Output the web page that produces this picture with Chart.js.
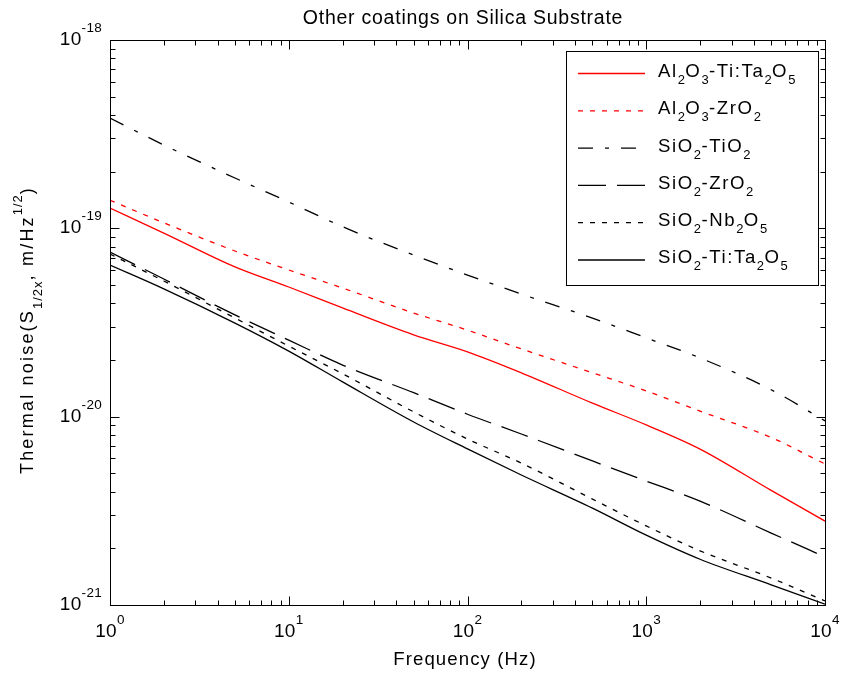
<!DOCTYPE html>
<html>
<head>
<meta charset="utf-8">
<script src="https://cdn.jsdelivr.net/npm/chart.js@4.4.1/dist/chart.umd.min.js"></script>
<style>
  html, body { margin: 0; padding: 0; background: #fff; }
  #wrap { width: 842px; height: 673px; }
</style>
</head>
<body>
<div id="wrap"><canvas id="noiseChart" width="842" height="673"></canvas></div>
<script>
// frequency grid (Hz) and thermal noise values (m/Hz^1/2)
const freqHz = [1, 2, 5, 10, 20, 50, 100, 200, 500, 1000, 2000, 5000, 10000];
const alTiTa = [1.28e-19, 9.44e-20, 6.24e-20, 4.88e-20, 3.78e-20, 2.72e-20, 2.21e-20, 1.71e-20, 1.18e-20, 9.04e-21, 6.73e-21, 4.06e-21, 2.79e-21];
const alZr   = [1.41e-19, 1.07e-19, 7.58e-20, 6.01e-20, 4.82e-20, 3.55e-20, 2.88e-20, 2.29e-20, 1.71e-20, 1.37e-20, 1.07e-20, 7.75e-21, 5.61e-21];
const siTi   = [3.85e-19, 2.77e-19, 1.85e-19, 1.38e-19, 1.02e-19, 7.21e-20, 5.65e-20, 4.48e-20, 3.34e-20, 2.62e-20, 2.05e-20, 1.39e-20, 9.5e-21];
const siZr   = [7.48e-20, 5.38e-20, 3.47e-20, 2.55e-20, 1.88e-20, 1.34e-20, 1.03e-20, 8.09e-21, 5.82e-21, 4.55e-21, 3.56e-21, 2.41e-21, 1.80e-21];
const siNb   = [7.31e-20, 5.25e-20, 3.34e-20, 2.37e-20, 1.69e-20, 1.06e-20, 7.61e-21, 5.67e-21, 3.65e-21, 2.63e-21, 1.94e-21, 1.39e-21, 1.05e-21];
const siTiTa = [6.38e-20, 4.77e-20, 3.14e-20, 2.23e-20, 1.53e-20, 9.37e-21, 6.74e-21, 4.90e-21, 3.27e-21, 2.35e-21, 1.75e-21, 1.28e-21, 1.01e-21];

const seriesLabels = ['Al2O3-Ti:Ta2O5', 'Al2O3-ZrO2', 'SiO2-TiO2', 'SiO2-ZrO2', 'SiO2-Nb2O5', 'SiO2-Ti:Ta2O5'];
const xTickExps = [0, 1, 2, 3, 4];
const yTickExps = [-21, -20, -19, -18];

const FONT = '"Liberation Sans", Arial, Helvetica, sans-serif';

function setFont(ctx, size, spacing) {
    ctx.font = size + 'px ' + FONT;
    ctx.letterSpacing = (spacing || 0) + 'px';
}

// digits in the formulas are drawn as subscripts
function formulaParts(label) {
    return label.match(/\d+|\D+/g).map(s => [s, /\d/.test(s) ? 'sub' : 'n']);
}

function partsWidth(ctx, parts, st) {
    let w = 0;
    parts.forEach(([t, k]) => {
        if (k === 'n') setFont(ctx, st.size, st.sp); else setFont(ctx, st.small, st.spSmall);
        w += ctx.measureText(t).width;
    });
    return w;
}

function drawParts(ctx, parts, x, y, st) {
    parts.forEach(([t, k]) => {
        if (k === 'n') setFont(ctx, st.size, st.sp); else setFont(ctx, st.small, st.spSmall);
        let dy = k === 'sub' ? st.subDy : (k === 'sup' ? st.supDy : 0);
        ctx.fillText(t, x, y + dy);
        x += ctx.measureText(t).width;
    });
    return x;
}

const tickStyle = { size: 19, sp: 0.3, small: 13.5, spSmall: 0.3, supDy: -13, subDy: 0 };
const legendStyle = { size: 18.6, sp: 1.6, small: 13, spSmall: 0.4, subDy: 7, supDy: 0 };
const ylabStyle = { size: 18, sp: 2.2, small: 13, spSmall: 1, subDy: 8.5, supDy: -11 };

function mkSet(i, vals, color, dash) {
    return {
        label: seriesLabels[i],
        data: freqHz.map((f, j) => ({ x: f, y: vals[j] })),
        borderColor: color, borderWidth: 1.3, borderDash: dash,
        pointRadius: 0, fill: false, cubicInterpolationMode: 'monotone'
    };
}

const framePlugin = {
    id: 'frame',
    beforeDraw(chart) {
        const ctx = chart.ctx;
        ctx.save(); ctx.fillStyle = '#fff'; ctx.fillRect(0, 0, chart.width, chart.height); ctx.restore();
    },
    afterDraw(chart) {
        const ctx = chart.ctx, a = chart.chartArea;
        const xs = chart.scales.x, ys = chart.scales.y;
        const L = Math.round(a.left) + 0.5, R = Math.round(a.right) + 0.5;
        const T = Math.round(a.top) + 0.5, B = Math.round(a.bottom) + 0.5;
        ctx.save();
        ctx.strokeStyle = '#000'; ctx.lineWidth = 1; ctx.setLineDash([]);
        ctx.strokeRect(L, T, R - L, B - T);

        // inward ticks on all four sides
        ctx.beginPath();
        for (let d = xTickExps[0]; d <= xTickExps[xTickExps.length - 1]; d++) {
            for (let k = 1; k <= 9; k++) {
                if (d === xTickExps[xTickExps.length - 1] && k > 1) break;
                const px = Math.round(xs.getPixelForValue(k * Math.pow(10, d))) + 0.5;
                const len = k === 1 ? 9 : 5;
                ctx.moveTo(px, B); ctx.lineTo(px, B - len);
                ctx.moveTo(px, T); ctx.lineTo(px, T + len);
            }
        }
        for (let d = yTickExps[0]; d <= yTickExps[yTickExps.length - 1]; d++) {
            for (let k = 1; k <= 9; k++) {
                if (d === yTickExps[yTickExps.length - 1] && k > 1) break;
                const py = Math.round(ys.getPixelForValue(k * Math.pow(10, d))) + 0.5;
                const len = k === 1 ? 9 : 5;
                ctx.moveTo(L, py); ctx.lineTo(L + len, py);
                ctx.moveTo(R, py); ctx.lineTo(R - len, py);
            }
        }
        ctx.stroke();

        // tick labels
        ctx.fillStyle = '#000'; ctx.textBaseline = 'alphabetic'; ctx.textAlign = 'left';
        xTickExps.forEach(e => {
            const parts = [['10', 'n'], [String(e), 'sup']];
            const px = xs.getPixelForValue(Math.pow(10, e));
            const w = partsWidth(ctx, parts, tickStyle);
            drawParts(ctx, parts, px - w / 2, a.bottom + 32, tickStyle);
        });
        yTickExps.forEach(e => {
            const parts = [['10', 'n'], [String(e), 'sup']];
            const py = ys.getPixelForValue(Math.pow(10, e));
            const w = partsWidth(ctx, parts, tickStyle);
            drawParts(ctx, parts, a.left - 8 - w, py + 5, tickStyle);
        });

        // title and axis titles
        const titleSt = { size: 19.5, sp: 0.75 };
        const tParts = [['Other coatings on Silica Substrate', 'n']];
        drawParts(ctx, tParts, 463 - partsWidth(ctx, tParts, titleSt) / 2, 24, titleSt);
        const xlSt = { size: 18.6, sp: 1.1 };
        const xParts = [['Frequency (Hz)', 'n']];
        drawParts(ctx, xParts, 465 - partsWidth(ctx, xParts, xlSt) / 2, 665, xlSt);
        const yParts = [['Thermal noise(S', 'n'], ['1/2x', 'sub'], [', m/Hz', 'n'], ['1/2', 'sup'], [')', 'n']];
        ctx.save();
        ctx.translate(33, 330); ctx.rotate(-Math.PI / 2);
        drawParts(ctx, yParts, -partsWidth(ctx, yParts, ylabStyle) / 2, 0, ylabStyle);
        ctx.restore();

        // legend box
        const bx = 566.5, by = 51.5, bw = 252, bh = 234;
        ctx.fillStyle = '#fff'; ctx.fillRect(bx, by, bw, bh);
        ctx.strokeStyle = '#000'; ctx.lineWidth = 1; ctx.strokeRect(bx, by, bw, bh);
        chart.data.datasets.forEach((ds, i) => {
            const yLine = 73.5 + i * 37.3;
            ctx.beginPath();
            ctx.strokeStyle = ds.borderColor; ctx.lineWidth = ds.borderWidth;
            ctx.setLineDash(ds.borderDash || []);
            ctx.moveTo(578, yLine); ctx.lineTo(645, yLine); ctx.stroke();
            ctx.setLineDash([]);
            ctx.fillStyle = '#000';
            drawParts(ctx, formulaParts(ds.label), 658, yLine + 3.4, legendStyle);
        });
        ctx.restore();
    }
};

new Chart(document.getElementById('noiseChart'), {
    type: 'line',
    data: {
        datasets: [
            mkSet(0, alTiTa, '#ff0000', []),
            mkSet(1, alZr, '#ff0000', [5, 7]),
            mkSet(2, siTi, '#000000', [15, 12, 4, 12]),
            mkSet(3, siZr, '#000000', [28, 11]),
            mkSet(4, siNb, '#000000', [5, 7]),
            mkSet(5, siTiTa, '#000000', [])
        ]
    },
    options: {
        responsive: false, animation: false,
        layout: { padding: { left: 110, top: 40, right: 17, bottom: 68 } },
        plugins: { legend: { display: false }, tooltip: { enabled: false } },
        scales: {
            x: { type: 'logarithmic', min: 1, max: 10000, display: false },
            y: { type: 'logarithmic', min: 1e-21, max: 1e-18, display: false }
        }
    },
    plugins: [framePlugin]
});
</script>
</body>
</html>
